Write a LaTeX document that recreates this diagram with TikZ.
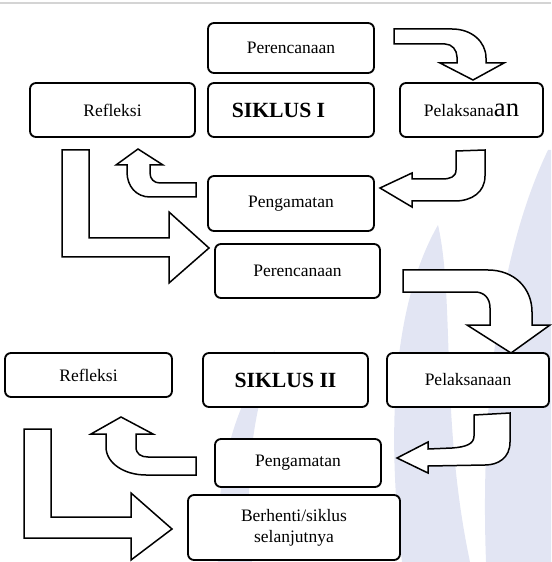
\documentclass[tikz,border=0pt]{standalone}
\usepackage{fontspec}
\setmainfont{Liberation Serif}
\usepackage{xcolor}
\definecolor{siklusframe}{HTML}{D4D4D4}
\definecolor{sikluswater}{HTML}{E2E5F3}

\begin{document}
\begin{tikzpicture}[
    x=0.6pt, y=-0.6pt,
    box/.style={rectangle, rounded corners=3.6pt, draw=black, fill=white, line width=1.1pt, align=center, inner sep=2pt, font=\fontsize{10.5}{12.5}\selectfont},
    title/.style={font=\fontsize{13}{15}\selectfont\bfseries},
    blockarrow/.style={draw=black, fill=white, line width=0.9pt, line join=miter},
    water/.style={fill=sikluswater, draw=none}
]
    \useasboundingbox (0,0) rectangle (551,562);
    \draw [siklusframe, line width=1.2pt] (0,3) -- (551,3);

    % Watermark
    \fill [water] (402,562) .. controls (385,420) and (395,300) .. (438,225) .. controls (455,300) and (440,420) .. (470,562) -- cycle;
    \fill [water] (486,562) .. controls (480,400) and (500,250) .. (548,150) -- (551,150) -- (551,562) -- cycle;
    \fill [water] (218,562) .. controls (215,470) and (235,400) .. (275,350) .. controls (250,420) and (245,480) .. (252,562) -- cycle;

    % Siklus I
    \node (per1) [box, minimum width=99.6pt, minimum height=30pt] at (291,48) {Perencanaan};
    \node (sik1) [box, title, minimum width=99.6pt, minimum height=32.4pt] at (291,110) {SIKLUS I\hspace{15pt}};
    \node (ref1) [box, minimum width=99pt, minimum height=32.4pt] at (112.5,110) {Refleksi};
    \node (pel1) [box, minimum width=85.8pt, minimum height=32.4pt] at (471.5,110) {Pelaksana{\fontsize{16}{16}\selectfont an}};
    \node (pen1) [box, minimum width=99.6pt, minimum height=33pt] at (291,203.5) {Pengamatan};

    % Siklus II
    \node (per2) [box, minimum width=99pt, minimum height=32.4pt] at (297.5,271) {Perencanaan};
    \node (ref2) [box, minimum width=100.2pt, minimum height=26.4pt] at (88.5,375) {Refleksi};
    \node (sik2) [box, title, minimum width=99pt, minimum height=32.4pt] at (285.5,380) {SIKLUS II};
    \node (pel2) [box, minimum width=97.2pt, minimum height=32.4pt] at (468,380) {Pelaksanaan};
    \node (pen2) [box, minimum width=99.6pt, minimum height=28.8pt] at (298,463) {Pengamatan};
    \node (stop) [box, minimum width=127.2pt, minimum height=39pt] at (294,527.5) {Berhenti/siklus\\selanjutnya};

    % Block arrows, Siklus I
    \draw [blockarrow] (394,29) -- (452,29) .. controls (472,29) and (486,42) .. (486,58) -- (486,63) -- (504,63) -- (473,80) -- (440,63) -- (457,63) -- (457,57) .. controls (457,50) and (452,44) .. (445,44) -- (394,44) -- cycle;
    \draw [blockarrow] (456,151) -- (485,150) -- (485,176) .. controls (485,192) and (472,201) .. (455,201) -- (412,201) -- (412,207) -- (380,188) -- (412,173) -- (412,179) -- (442,179) .. controls (450,179) and (456,177) .. (456,170) -- cycle;
    \draw [blockarrow] (196,183) -- (160,183) .. controls (154,183) and (150,179) .. (150,173) -- (150,165) -- (163,165) -- (138,149) -- (116,165) -- (127,165) -- (127,172) .. controls (127,186) and (136,197) .. (150,197) -- (196,197) -- cycle;
    \draw [blockarrow] (62,150) -- (89,150) -- (89,238) -- (169,238) -- (169,212) -- (209,248) -- (169,283) -- (169,257) -- (62,257) -- cycle;

    % Block arrows, Siklus II
    \draw [blockarrow] (403,270) -- (488,270) .. controls (514,270) and (532,288) .. (532,312) -- (532,325) -- (550,325) -- (511,353) -- (467,325) -- (490,325) -- (490,308) .. controls (490,298) and (484,292) .. (475,292) -- (403,292) -- cycle;
    \draw [blockarrow] (474,415) -- (510,413) -- (510,442) .. controls (510,458) and (498,465) .. (485,465) -- (428,466) -- (428,473) -- (397,458) -- (428,442) -- (428,449) -- (452,448) .. controls (466,447) and (474,444) .. (474,436) -- cycle;
    \draw [blockarrow] (196,457) -- (148,457) .. controls (141,457) and (136,454) .. (136,447) -- (136,434) -- (153,434) -- (121,417) -- (91,434) -- (106,434) -- (106,447) .. controls (106,463) and (124,475) .. (146,475) -- (196,475) -- cycle;
    \draw [blockarrow] (24,429) -- (51,429) -- (51,517) -- (131,517) -- (131,493) -- (172,529) -- (131,560) -- (131,538) -- (24,538) -- cycle;
\end{tikzpicture}
\end{document}
